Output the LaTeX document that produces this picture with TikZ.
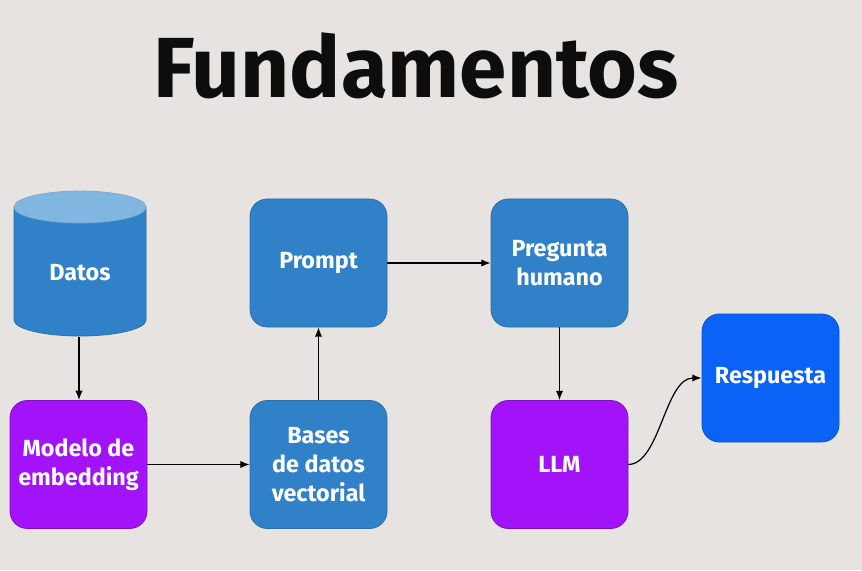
\documentclass[tikz,border=0pt]{standalone}
\usepackage{fontspec}
\setmainfont{Fira Sans}
\usetikzlibrary{arrows.meta}
\definecolor{bg}{HTML}{E6E3E1}
\definecolor{bblue}{HTML}{3181C9}
\definecolor{bblueb}{HTML}{2A6FAE}
\definecolor{ltop}{HTML}{80B6E0}
\definecolor{purp}{HTML}{A213FA}
\definecolor{purpb}{HTML}{7E10C0}
\definecolor{rblue}{HTML}{0A63F6}
\definecolor{rblueb}{HTML}{0A52C8}
\tikzset{
  lbl/.style={text=white, align=center, font=\fontsize{17.5}{21.5}\selectfont\bfseries},
  box/.style={lbl, draw=#1b, line width=0.6pt, fill=#1, rounded corners=13pt, minimum width=102.75pt, minimum height=96pt, inner sep=0pt},
  conn/.style={-{Latex[length=7pt,width=5.5pt]}, line width=0.9pt, black},
}
\begin{document}
\begin{tikzpicture}[x=0.75pt,y=-0.75pt]
\fill[bg] (0,0) rectangle (862,570);
\useasboundingbox (0,0) rectangle (862,570);
\node[font=\fontsize{64}{66}\selectfont\bfseries, text=black!95] (title) at (416,66) {Fundamentos};
% cylinder
\fill[bblue, draw=bblueb, line width=0.6pt] (14,207) -- (14,320) arc[start angle=180,end angle=0,x radius=66,y radius=16] -- (146,207) -- cycle;
\fill[ltop, draw=bblueb!60, line width=0.5pt] (80,207) ellipse[x radius=66,y radius=16];
\node[lbl] (datos) at (80,273) {Datos};
\coordinate (datosb) at (79,337);
\node[box=purp] (modelo) at (78.5,464.5) {Modelo de\\embedding};
\node[box=bblue] (bases) at (318.5,464.5) {Bases\\de datos\\vectorial};
\node[box=bblue] (prompt) at (318.5,263) {Prompt};
\node[box=bblue] (preg) at (559.5,263) {Pregunta\\humano};
\node[box=purp] (llm) at (559.5,464.5) {LLM};
\node[box=rblue] (resp) at (770.5,378) {Respuesta};
\draw[conn] (datosb) -- (79,400);
\draw[conn] (modelo.east) -- (bases.west);
\draw[conn] (bases.north) -- (prompt.south);
\draw[conn] (prompt.east) -- (preg.west);
\draw[conn] (preg.south) -- (llm.north);
\draw[conn] (llm.east) .. controls (660,464) and (665,378) .. (resp.west);
\end{tikzpicture}
\end{document}
